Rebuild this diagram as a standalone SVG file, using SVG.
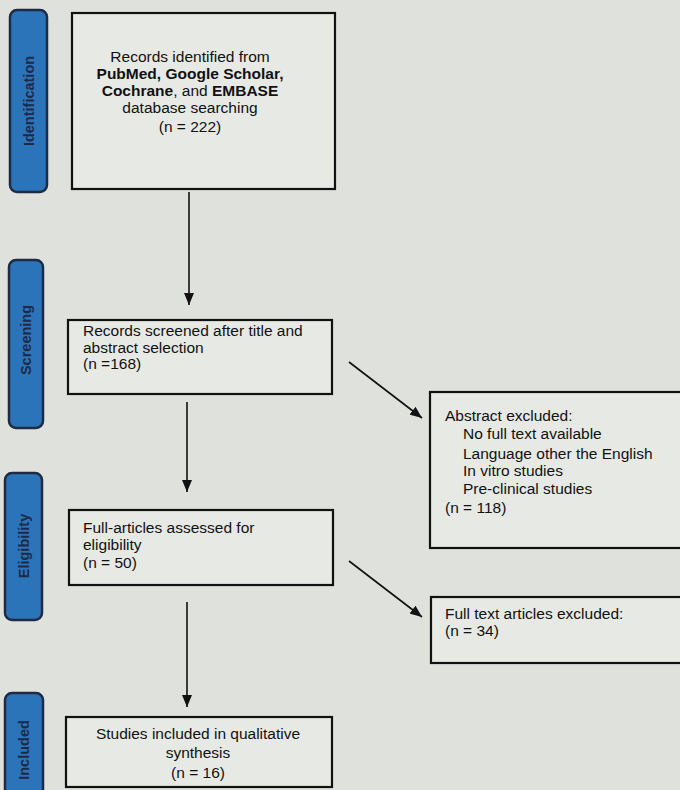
<svg xmlns="http://www.w3.org/2000/svg" width="680" height="790" viewBox="0 0 680 790">
<defs>
<marker id="ah" viewBox="0 0 12 10" refX="12" refY="5" markerWidth="12" markerHeight="10" markerUnits="userSpaceOnUse" orient="auto">
<path d="M0,0 L12,5 L0,10 z" fill="#111"/>
</marker>
<style>
.bar{fill:#2c74b9;stroke:#1e2b45;stroke-width:2.5}
.bt{font-family:"Liberation Sans",Arial,sans-serif;font-size:14.5px;font-weight:bold;fill:#1c2a48;text-anchor:middle}
.box{fill:#e7e9e5;stroke:#111;stroke-width:2.2}
.t{font-family:"Liberation Sans",Arial,sans-serif;font-size:15.5px;fill:#111}
.c{text-anchor:middle}
.b{font-weight:bold}
.ln{stroke:#111;stroke-width:1.6;fill:none}
</style>
</defs>
<rect x="0" y="0" width="680" height="790" fill="#dfe1dd"/>
<g id="bar-identification"><rect class="bar" x="10" y="10" width="37" height="182" rx="7"/><text class="bt" transform="translate(34,101) rotate(-90)">Identification</text></g>
<g id="bar-screening"><rect class="bar" x="9" y="260" width="34" height="168" rx="7"/><text class="bt" transform="translate(31,340) rotate(-90)">Screening</text></g>
<g id="bar-eligibility"><rect class="bar" x="5" y="473" width="37" height="147" rx="7"/><text class="bt" transform="translate(29,546) rotate(-90)">Eligibility</text></g>
<g id="bar-included"><rect class="bar" x="5" y="693" width="38" height="110" rx="7"/><text class="bt" transform="translate(29,750) rotate(-90)">Included</text></g>
<g id="n1"><rect class="box" x="72" y="13" width="263" height="176"/>
<text class="t c" x="190" y="62">Records identified from</text>
<text class="t c b" x="190" y="79">PubMed, Google Scholar,</text>
<text class="t c" x="190" y="96"><tspan class="b">Cochrane</tspan>, and <tspan class="b">EMBASE</tspan></text>
<text class="t c" x="190" y="113">database searching</text>
<text class="t c" x="190" y="132">(n = 222)</text></g>
<g id="n2"><rect class="box" x="68" y="320" width="264" height="74"/>
<text class="t" x="83" y="336">Records screened after title and</text>
<text class="t" x="83" y="353">abstract selection</text>
<text class="t" x="83" y="369">(n =168)</text></g>
<g id="n3"><rect class="box" x="69" y="510" width="264" height="75"/>
<text class="t" x="83" y="533">Full-articles assessed for</text>
<text class="t" x="83" y="550">eligibility</text>
<text class="t" x="83" y="568">(n = 50)</text></g>
<g id="n4"><rect class="box" x="66" y="717" width="266" height="70"/>
<text class="t c" x="198" y="739">Studies included in qualitative</text>
<text class="t c" x="198" y="758">synthesis</text>
<text class="t c" x="198" y="778">(n = 16)</text></g>
<g id="n5"><rect class="box" x="430" y="392" width="260" height="156"/>
<text class="t" x="445" y="421">Abstract excluded:</text>
<text class="t" x="463" y="439">No full text available</text>
<text class="t" x="463" y="459">Language other the English</text>
<text class="t" x="463" y="476">In vitro studies</text>
<text class="t" x="463" y="494">Pre-clinical studies</text>
<text class="t" x="445" y="513">(n = 118)</text></g>
<g id="n6"><rect class="box" x="431" y="597" width="260" height="66"/>
<text class="t" x="445" y="619">Full text articles excluded:</text>
<text class="t" x="445" y="636">(n = 34)</text></g>
<g id="connectors">
<line class="ln" x1="189" y1="192" x2="189" y2="305" marker-end="url(#ah)"/>
<line class="ln" x1="187" y1="402" x2="187" y2="492" marker-end="url(#ah)"/>
<line class="ln" x1="187" y1="602" x2="187" y2="707" marker-end="url(#ah)"/>
<line class="ln" x1="349" y1="362" x2="422" y2="418" marker-end="url(#ah)"/>
<line class="ln" x1="349" y1="561" x2="422" y2="617" marker-end="url(#ah)"/>
</g>
</svg>
